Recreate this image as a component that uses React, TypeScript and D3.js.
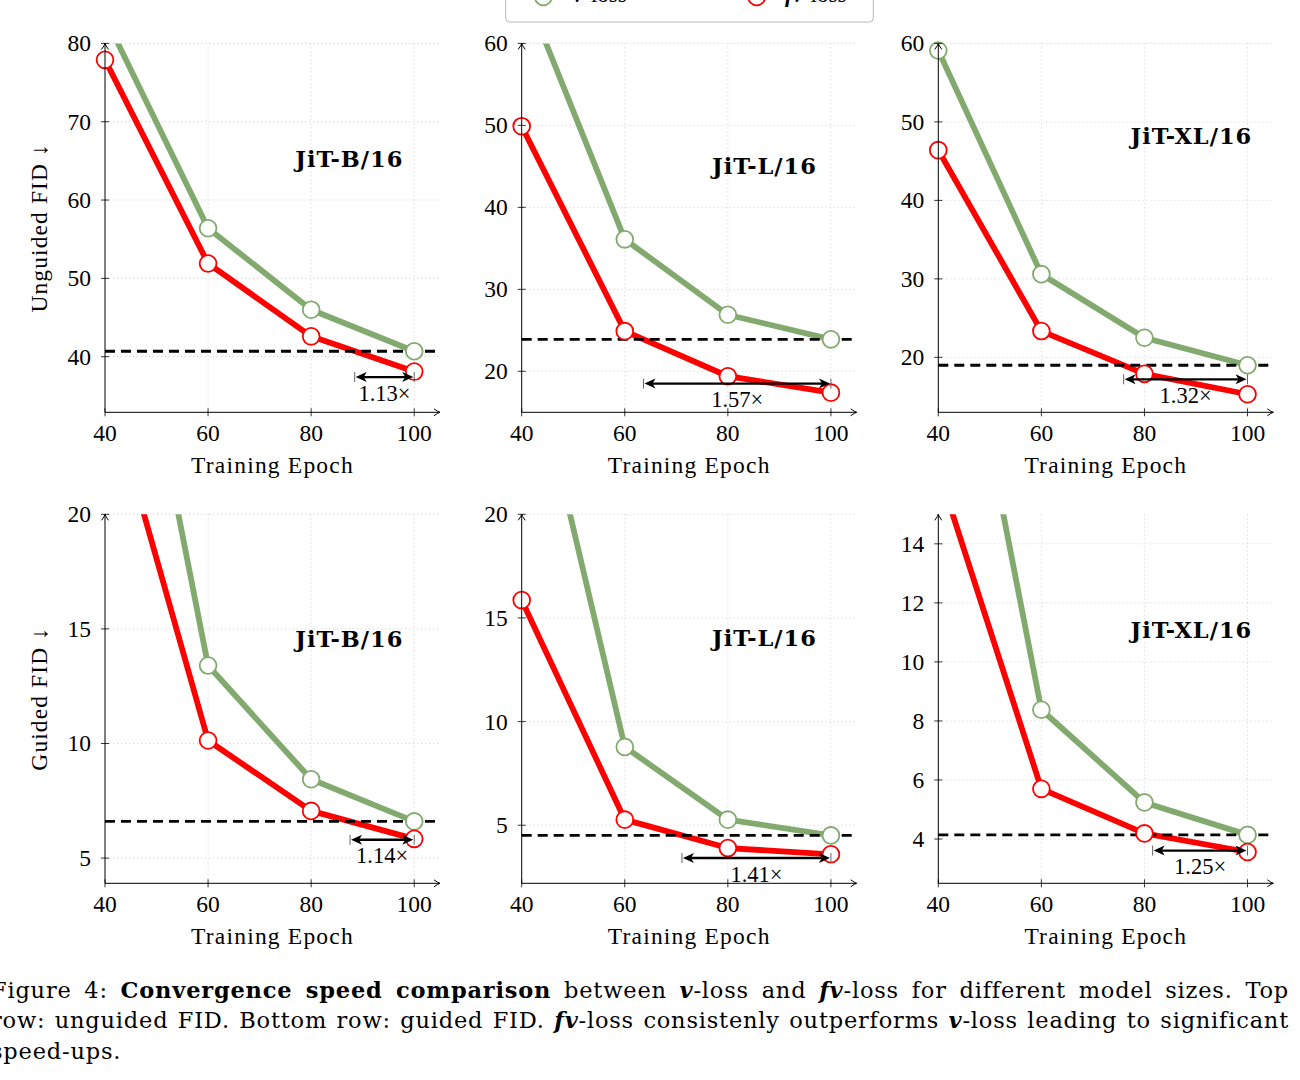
import React, { useLayoutEffect, useRef } from "react";
import * as d3 from "d3";

// training epochs on the x axis
const epochs = [40, 60, 80, 100];

// panel order: top row unguided (B, L, XL), bottom row guided (B, L, XL)
const modelNames = ["JiT-B/16", "JiT-L/16", "JiT-XL/16", "JiT-B/16", "JiT-L/16", "JiT-XL/16"];

const vLoss = [
  [83.4, 56.4, 46.0, 40.7],
  [67.4, 36.1, 26.9, 23.9],
  [59.1, 30.6, 22.5, 19.0],
  [36.3, 13.4, 8.44, 6.6],
  [29.9, 8.78, 5.27, 4.51],
  [26.3, 8.38, 5.24, 4.14],
];

const fvLoss = [
  [77.9, 51.9, 42.6, 38.1],
  [49.9, 24.9, 19.4, 17.4],
  [46.4, 23.35, 17.9, 15.3],
  [26.0, 10.13, 7.06, 5.84],
  [15.86, 5.27, 3.9, 3.6],
  [16.5, 5.7, 4.19, 3.56],
];

const yDomains = [
  [32.9, 80],
  [15, 60],
  [13, 60],
  [3.9, 20],
  [2.2, 20],
  [2.5, 15],
];

const yTicks = [
  [40, 50, 60, 70, 80],
  [20, 30, 40, 50, 60],
  [20, 30, 40, 50, 60],
  [5, 10, 15, 20],
  [5, 10, 15, 20],
  [4, 6, 8, 10, 12, 14],
];

const speedupLabels = ["1.13×", "1.57×", "1.32×", "1.14×", "1.41×", "1.25×"];
const speedupArrowY = [37.4, 18.5, 17.2, 5.8, 3.42, 3.61];

// model name label centre, in data units [epoch, FID]
const nameAnchors = [
  [87.4, 65.2],
  [87.1, 45.1],
  [89.1, 48.2],
  [87.4, 14.56],
  [87.1, 14.04],
  [89.1, 11.07],
];

const rowTitles = ["Unguided FID ↓", "Guided FID ↓"];

const green = "#82aa6e";
const red = "#ff0000";
const serif = "'Liberation Serif', 'Times New Roman', serif";
const wideSerif = "'DejaVu Serif', serif";

const panelLeft = [105, 521.7, 938.3];
const rowTop = [43.4, 514.3];
const rowBottom = [412.3, 883.3];
const plotW = 335;
const markerR = 8.4;

function crossing(fv: number[], base: number) {
  for (let j = 0; j < fv.length - 1; j++) {
    if (fv[j] >= base && fv[j + 1] <= base) {
      const t = (fv[j] - base) / (fv[j] - fv[j + 1]);
      return epochs[j] + t * (epochs[j + 1] - epochs[j]);
    }
  }
  return epochs[0];
}

function Panel({ i }: { i: number }) {
  const col = i % 3;
  const row = Math.floor(i / 3);
  const left = panelLeft[col];
  const right = left + plotW;
  const top = rowTop[row];
  const bottom = rowBottom[row];

  const x = d3.scaleLinear().domain([40, 105]).range([left, right]);
  const y = d3.scaleLinear().domain(yDomains[i]).range([bottom, top]);

  const line = d3
    .line<number>()
    .x((_, j) => x(epochs[j]))
    .y((d) => y(d));

  const base = vLoss[i][3];
  const start = crossing(fvLoss[i], base);
  const ax1 = x(start);
  const ax2 = x(100);
  const ay = y(speedupArrowY[i]);
  const clipId = `clip-${i}`;
  const [lx, ly] = nameAnchors[i];
  const inRange = (v: number) => v >= yDomains[i][0] && v <= yDomains[i][1];

  return (
    <g>
      <defs>
        <clipPath id={clipId}>
          <rect x={left} y={top} width={plotW} height={bottom - top} />
        </clipPath>
      </defs>

      {/* grid */}
      <g stroke="#cfcfcf" strokeWidth={1} strokeDasharray="1 3">
        {yTicks[i].map((t) => (
          <line key={"h" + t} x1={left} x2={right} y1={y(t)} y2={y(t)} />
        ))}
        {epochs.slice(1).map((e) => (
          <line key={"v" + e} x1={x(e)} x2={x(e)} y1={bottom} y2={top} />
        ))}
      </g>

      {/* series */}
      <g clipPath={`url(#${clipId})`} fill="none" strokeLinejoin="round">
        <path d={line(vLoss[i]) as string} stroke={green} strokeWidth={5.8} />
        <path d={line(fvLoss[i]) as string} stroke={red} strokeWidth={5.8} />
      </g>

      {/* baseline = final v-loss FID */}
      <line
        x1={left}
        x2={right}
        y1={y(base)}
        y2={y(base)}
        stroke="#000"
        strokeWidth={2.9}
        strokeDasharray="10 6"
      />

      {vLoss[i].map((v, j) =>
        inRange(v) ? (
          <circle key={"g" + j} cx={x(epochs[j])} cy={y(v)} r={markerR} fill="#fff" stroke={green} strokeWidth={1.8} />
        ) : null
      )}
      {fvLoss[i].map((v, j) =>
        inRange(v) ? (
          <circle key={"r" + j} cx={x(epochs[j])} cy={y(v)} r={markerR} fill="#fff" stroke={red} strokeWidth={1.8} />
        ) : null
      )}

      {/* speed-up arrow */}
      <g>
        <line x1={ax1 + 8} x2={ax2 - 8} y1={ay} y2={ay} stroke="#000" strokeWidth={2.3} />
        <path d={`M${ax1 + 1},${ay} L${ax1 + 12},${ay - 5} L${ax1 + 9},${ay} L${ax1 + 12},${ay + 5} Z`} fill="#000" />
        <path d={`M${ax2 - 1},${ay} L${ax2 - 12},${ay - 5} L${ax2 - 9},${ay} L${ax2 - 12},${ay + 5} Z`} fill="#000" />
        <line x1={ax1} x2={ax1} y1={ay - 5} y2={ay + 5} stroke="#555" strokeWidth={0.9} />
        <line x1={ax2} x2={ax2} y1={ay - 5} y2={ay + 5} stroke="#555" strokeWidth={0.9} />
        <text
          x={(ax1 + ax2) / 2}
          y={ay + 16}
          textAnchor="middle"
          dominantBaseline="central"
          fontFamily={serif}
          fontSize={22.5}
        >
          {speedupLabels[i]}
        </text>
      </g>

      {/* model name */}
      <text
        x={x(lx)}
        y={y(ly)}
        textAnchor="middle"
        dominantBaseline="central"
        fontFamily={wideSerif}
        fontWeight="bold"
        fontSize={22.5}
        letterSpacing={1}
      >
        {modelNames[i]}
      </text>

      {/* axes */}
      <g stroke="#000" strokeWidth={1} fill="none">
        <line x1={left} x2={right} y1={bottom} y2={bottom} />
        <line x1={left} x2={left} y1={bottom} y2={top} />
        <path d={`M${right - 6},${bottom - 3.5} Q${right - 2},${bottom - 0.5} ${right},${bottom} Q${right - 2},${bottom + 0.5} ${right - 6},${bottom + 3.5}`} />
        <path d={`M${left - 3.5},${top + 6} Q${left - 0.5},${top + 2} ${left},${top} Q${left + 0.5},${top + 2} ${left + 3.5},${top + 6}`} />
        {epochs.map((e) => (
          <line key={"xt" + e} x1={x(e)} x2={x(e)} y1={bottom - 4} y2={bottom + 4} strokeWidth={0.8} />
        ))}
        {yTicks[i].map((t) => (
          <line key={"yt" + t} x1={left - 4} x2={left + 4} y1={y(t)} y2={y(t)} strokeWidth={0.8} />
        ))}
      </g>

      <g fontFamily={serif} fontSize={23.5}>
        {epochs.map((e) => (
          <text key={"xl" + e} x={x(e)} y={bottom + 21} textAnchor="middle" dominantBaseline="central">
            {e}
          </text>
        ))}
        {yTicks[i].map((t) => (
          <text key={"yl" + t} x={left - 14} y={y(t)} textAnchor="end" dominantBaseline="central">
            {t}
          </text>
        ))}
        <text x={(left + right) / 2} y={bottom + 61} textAnchor="middle" letterSpacing={1.2}>
          Training Epoch
        </text>
      </g>

      {col === 0 && (
        <text
          transform={`translate(39,${(top + bottom) / 2}) rotate(-90)`}
          textAnchor="middle"
          dominantBaseline="central"
          fontFamily={serif}
          fontSize={23.5}
          letterSpacing={1.1}
        >
          {rowTitles[row]}
        </text>
      )}
    </g>
  );
}

const BV = ({ children }: { children: React.ReactNode }) => (
  <tspan fontWeight="bold" fontStyle="italic">
    {children}
  </tspan>
);

const captionX = -9;
const captionRight = 1289;

export default function App() {
  const line1 = useRef<SVGTextElement>(null);
  const line2 = useRef<SVGTextElement>(null);

  // justify the first two caption lines with word spacing, like LaTeX
  useLayoutEffect(() => {
    [line1.current, line2.current].forEach((el) => {
      if (!el) return;
      el.style.wordSpacing = "0px";
      const natural = el.getComputedTextLength();
      const spaces = (el.textContent || "").split(" ").length - 1;
      if (spaces > 0) {
        el.style.wordSpacing = `${(captionRight - captionX - natural) / spaces}px`;
      }
    });
  }, []);

  return (
    <svg
      width={1300}
      height={1080}
      style={{ position: "absolute", left: 0, top: 0, background: "#fff" }}
    >
      {/* legend (top edge cut off, as in the source) */}
      <g>
        <rect x={505.7} y={-30} width={367.6} height={52} rx={4} fill="#fff" stroke="#b8b8b8" strokeWidth={1} />
        <line x1={523} x2={563} y1={-3} y2={-3} stroke={green} strokeWidth={5.8} />
        <circle cx={543.3} cy={-3} r={markerR} fill="#fff" stroke={green} strokeWidth={1.8} />
        <text x={573} y={2} fontFamily={serif} fontSize={23}>
          <BV>v</BV>-loss
        </text>
        <line x1={737} x2={777} y1={-3} y2={-3} stroke={red} strokeWidth={5.8} />
        <circle cx={756.7} cy={-3} r={markerR} fill="#fff" stroke={red} strokeWidth={1.8} />
        <text x={785} y={2} fontFamily={serif} fontSize={23}>
          <BV>fv</BV>-loss
        </text>
      </g>

      {d3.range(6).map((i) => (
        <Panel key={i} i={i} />
      ))}

      {/* caption, clipped on the left as in the source */}
      <g fontFamily={wideSerif} fontSize={22.5} letterSpacing={0.8}>
        <text ref={line1} x={captionX} y={997.5}>
          Figure 4: <tspan fontWeight="bold">Convergence speed comparison</tspan> between <BV>v</BV>-loss and{" "}
          <BV>fv</BV>-loss for different model sizes. Top
        </text>
        <text ref={line2} x={captionX} y={1028.3}>
          row: unguided FID. Bottom row: guided FID. <BV>fv</BV>-loss consistenly outperforms <BV>v</BV>-loss leading to
          significant
        </text>
        <text x={captionX} y={1058.5}>
          speed-ups.
        </text>
      </g>
    </svg>
  );
}
